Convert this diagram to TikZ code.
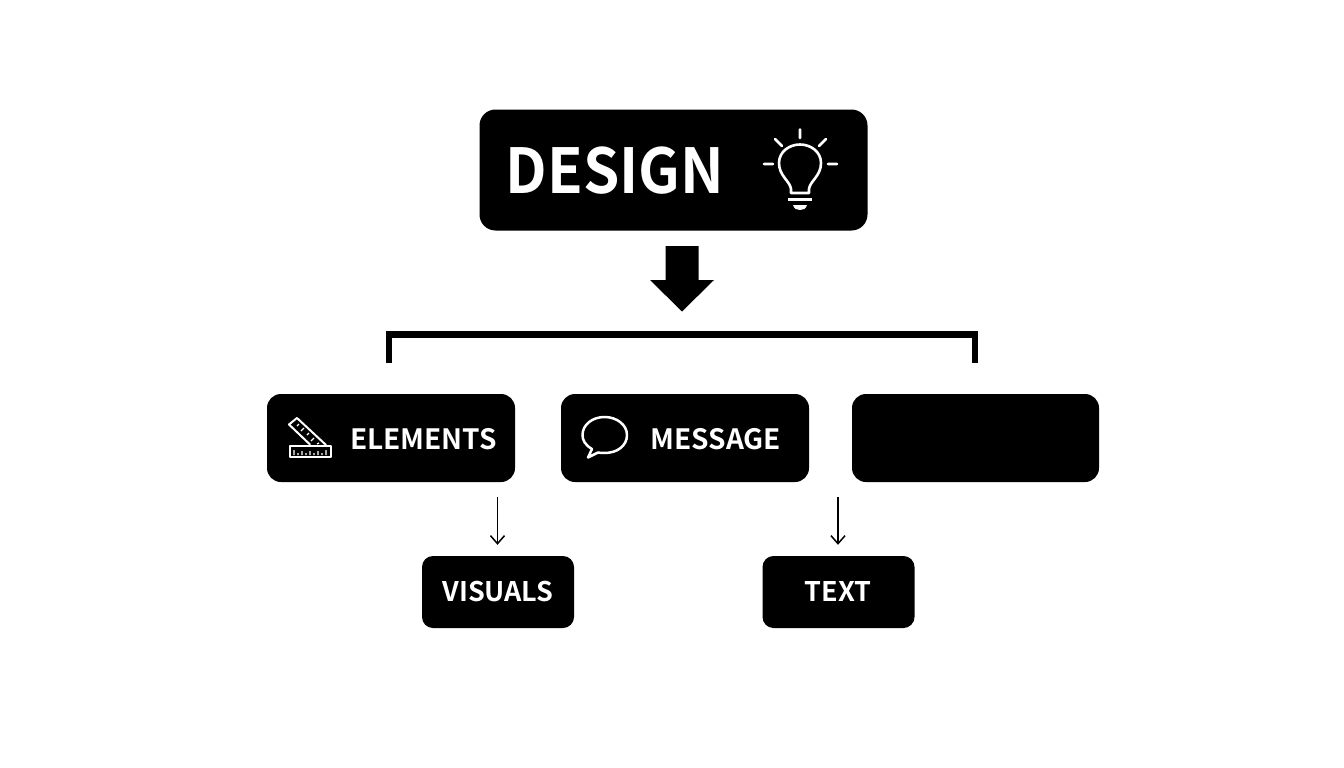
\documentclass[tikz,border=0pt]{standalone}
\usepackage{graphicx}
\usepackage{fontspec}
\setmainfont{Noto Sans CJK SC}[BoldFont={* Bold}]
\usetikzlibrary{arrows.meta}
\tikzset{
  box/.style={draw=none,fill=black,rounded corners=14pt,inner sep=0pt,minimum width=248pt,minimum height=88pt},
  smallbox/.style={draw=none,fill=black,rounded corners=11pt,inner sep=0pt,minimum width=152pt,minimum height=72pt},
  label/.style={text=white,inner sep=0pt,font=\fontsize{27}{27}\selectfont\bfseries},
  midlabel/.style={label,font=\fontsize{28}{28}\selectfont\bfseries},
  thin arrow/.style={draw=black,line width=1.5pt,-{Straight Barb[length=8pt,width=14pt,line width=1.5pt]},shorten >=11pt},
  icon/.style={draw=white,line width=2pt,line cap=round,line join=round},
  bulb/.style={draw=white,line width=2.6pt,line cap=round,line join=round},
}
\begin{document}
\begin{tikzpicture}[x=1pt,y=-1pt]
\useasboundingbox[fill=white] (0,0) rectangle (1344,768);

% Main box
\node[box,minimum width=388pt,minimum height=121pt,rounded corners=16pt] (design) at (673.5,170) {};
\node[label,font=\fontsize{62}{62}\selectfont\bfseries] (designlabel) at (615,171) {\scalebox{.94}[1]{DESIGN}};

% Bulb
\draw[bulb] (791,193) -- (791,189) .. controls (790,181) and (779,176) .. (779,163)
  .. controls (779,152) and (789,144.5) .. (800,144.5)
  .. controls (811,144.5) and (821,152) .. (821,163)
  .. controls (821,176) and (810,181) .. (809,189) -- (809,193) -- cycle;
\draw[bulb] (800,129.5) -- (800,138) (775,139) -- (782,146) (826,139) -- (819,146)
  (764,164) -- (773,164) (828,164) -- (837,164);
\draw[bulb,line width=3pt,line cap=butt] (788,199) -- (812,199);
\fill[white] (793,205) -- (807,205) .. controls (806,209) and (803,210) .. (800,210)
  .. controls (797,210) and (794,209) .. (793,205) -- cycle;

% Block arrow
\fill[black] (665.5,246) -- (698.5,246) -- (698.5,280) -- (714,280) -- (682,311.5) -- (650,280) -- (665.5,280) -- cycle;

% Bracket
\coordinate (bl) at (389,363);
\coordinate (bt) at (389,334.5);
\coordinate (brt) at (975,334.5);
\coordinate (br) at (975,363);
\draw[black,line width=6.5pt,line join=miter] (bl) -- (bt) -- (brt) -- (br);

% Middle row
\node[box] (elements) at (391,438) {};
\node[box] (message) at (685,438) {};
\node[box,minimum width=247pt] (blank) at (975.5,438) {};
\node[midlabel,anchor=west] (elementslabel) at (350,439) {ELEMENTS};
\node[midlabel,anchor=west] (messagelabel) at (650.5,439) {MESSAGE};

% Ruler icon
\draw[icon] (290,446) rectangle (331,457);
\draw[icon] (310,444.5) -- (289,424.5) -- (297,418) -- (326,445);
\draw[icon,line width=1.2pt,line cap=butt] (294,450) -- (294,455) (298,453) -- (298,455) (302,451) -- (302,455) (306,453) -- (306,455)
 (310,451) -- (310,455) (314,453) -- (314,455) (318,451) -- (318,455) (322,453) -- (322,455) (326,450) -- (326,455)
 (299,424) -- (297,426) (304,428) -- (301,431) (309,433) -- (307,435) (314,438) -- (311,441) (319,443) -- (317,444);

% Speech bubble
\draw[icon,line width=2.5pt] (592,449) .. controls (585,445) and (582.5,440) .. (582.5,435)
  .. controls (582.5,425) and (592,417) .. (604.5,417)
  .. controls (617,417) and (627,425) .. (627,435)
  .. controls (627,446) and (617,453) .. (604.5,453)
  .. controls (602,453) and (600,453) .. (598,452.5)
  -- (588,457.5) -- cycle;

% Bottom row
\node[smallbox] (visuals) at (498,592) {};
\node[smallbox] (textbox) at (838.5,592) {};
\node[label] (visualslabel) at (498,591.5) {VISUALS};
\node[label] (textlabel) at (838,591.5) {TEXT};

\coordinate (a1) at (497.5,497);
\coordinate (a2) at (838,497);
\draw[thin arrow] (a1) -- (a1 |- visuals.north);
\draw[thin arrow] (a2) -- (a2 |- textbox.north);
\end{tikzpicture}
\end{document}
